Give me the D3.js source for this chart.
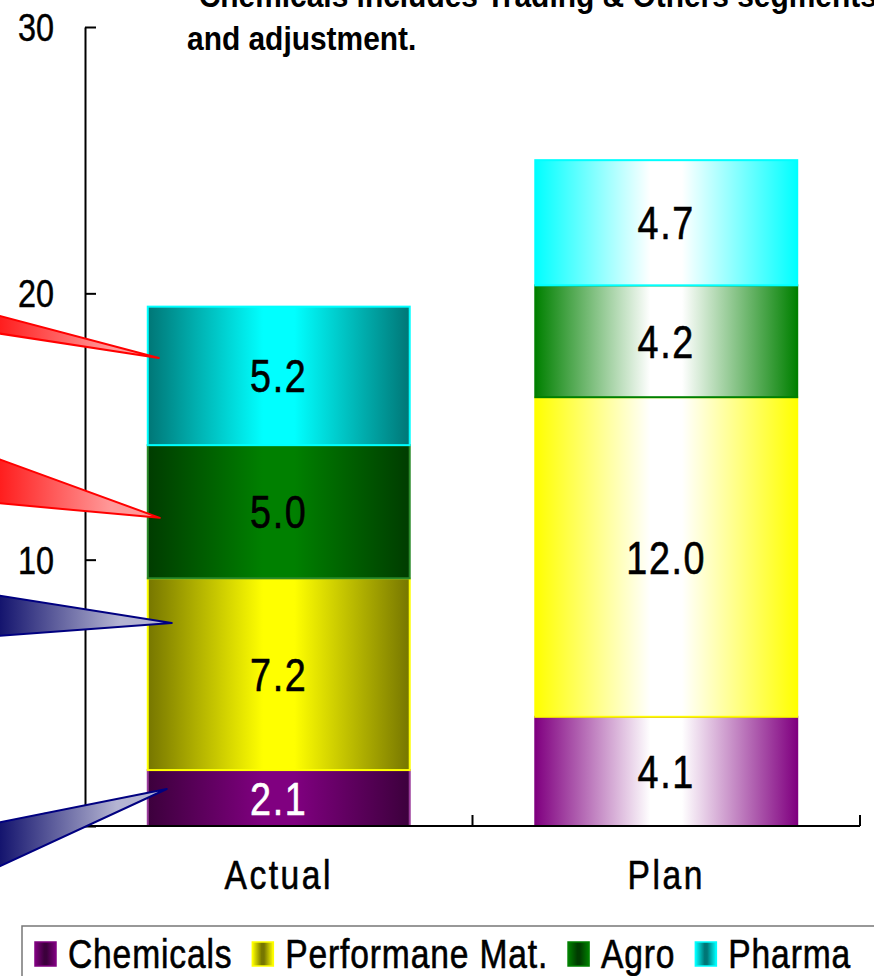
<!DOCTYPE html>
<html>
<head>
<meta charset="utf-8">
<script src="https://cdn.jsdelivr.net/npm/d3@7/dist/d3.min.js"></script>
<style>
  html, body { margin: 0; padding: 0; background: #fff; }
  svg { display: block; }
</style>
</head>
<body>
<script>
// ---- data ----
const categories = ["Actual", "Plan"];
const seriesNames = ["Chemicals", "Performane Mat.", "Agro", "Pharma"];
const chemicals = [2.1, 4.1];
const performanceMat = [7.2, 12.0];
const agro = [5.0, 4.2];
const pharma = [5.2, 4.7];
const yTicks = [0, 10, 20, 30];
const noteLines = ["*Chemicals includes Trading & Others segments", "and adjustment."];

// callout wedges: which segment value on the Actual bar each one points to
const calloutTargets = [17.57, 11.57, 7.62, 1.39];

// ---- styles ----
const W = 874, H = 976;
const seriesStyle = [
  { base: "#800080", dark: "#3c003c", stroke: "#9a3a9a", planStroke: "#800080", label: "#ffffff" },
  { base: "#ffff00", dark: "#767600", stroke: "#ffff00", planStroke: "#ffff00", label: "#000000" },
  { base: "#008000", dark: "#003c00", stroke: "#2a8a2a", planStroke: "#008000", label: "#000000" },
  { base: "#00ffff", dark: "#007676", stroke: "#00ffff", planStroke: "#00ffff", label: "#000000" }
];
const calloutStyle = [
  { y0: 315, y1: 333, dx: 11, light: "#ff9a9a", deep: "#ff1e1e", stroke: "#ff0000" },
  { y0: 458, y1: 503, dx: 12, light: "#ff9a9a", deep: "#ff1e1e", stroke: "#ff0000" },
  { y0: 595, y1: 636, dx: 24, light: "#b4b4d2", deep: "#14146e", stroke: "#000080" },
  { y0: 823, y1: 868, dx: 19, light: "#b4b4d2", deep: "#14146e", stroke: "#000080" }
];
const narrowFont = "'Liberation Sans', Arial, sans-serif";

const table = categories.map((c, i) => ({
  category: c,
  "Chemicals": chemicals[i],
  "Performane Mat.": performanceMat[i],
  "Agro": agro[i],
  "Pharma": pharma[i]
}));

const svg = d3.select("body").append("svg")
  .attr("width", W).attr("height", H)
  .attr("viewBox", `0 0 ${W} ${H}`);
const defs = svg.append("defs");

// scales
const x = d3.scaleBand().domain(categories).range([85, 860])
  .paddingInner(0.324).paddingOuter(0.162);
const y = d3.scaleLinear().domain([0, 30]).range([826, 27]);

// gradients: metallic dark-edged for Actual, white-centred for Plan
function hGradient(id, edge, mid) {
  const g = defs.append("linearGradient").attr("id", id)
    .attr("x1", "0%").attr("x2", "100%").attr("y1", "0%").attr("y2", "0%");
  g.append("stop").attr("offset", "0%").attr("stop-color", edge);
  g.append("stop").attr("offset", "44%").attr("stop-color", mid);
  g.append("stop").attr("offset", "56%").attr("stop-color", mid);
  g.append("stop").attr("offset", "100%").attr("stop-color", edge);
}
seriesStyle.forEach((s, i) => {
  hGradient(`actual-${i}`, s.dark, s.base);
  hGradient(`plan-${i}`, s.base, "#ffffff");
  hGradient(`swatch-${i}`, s.base, s.dark);
});

// note text at the top
const note = svg.append("g").attr("font-family", narrowFont)
  .attr("font-weight", "bold").attr("font-size", 34).attr("fill", "#000");
noteLines.forEach((t, i) => {
  note.append("g").attr("transform", `translate(187,${7 + i * 43}) scale(0.88,1)`)
    .append("text").text(t);
});

// y axis
const yAxis = d3.axisLeft(y).tickValues(yTicks).tickFormat(d3.format("d"))
  .tickSizeInner(-11).tickSizeOuter(0).tickPadding(31);
const yg = svg.append("g").attr("transform", "translate(85,0)").call(yAxis);
yg.select(".domain").attr("stroke", "#000").attr("stroke-width", 2);
yg.selectAll(".tick line").attr("stroke", "#000").attr("stroke-width", 2);
yg.selectAll(".tick text")
  .attr("font-family", narrowFont).attr("font-size", 39).attr("fill", "#000")
  .attr("stroke", "#000").attr("stroke-width", 0.5)
  .attr("x", 0).attr("dy", "0.35em")
  .attr("transform", "translate(-31,0) scale(0.83,1)");

// stacked bars
const stack = d3.stack().keys(seriesNames);
const layers = stack(table);

const barG = svg.append("g");
layers.forEach((layer, si) => {
  const st = seriesStyle[si];
  layer.forEach((d, ci) => {
    const cat = categories[ci];
    const isPlan = ci === 1;
    barG.append("rect")
      .attr("x", x(cat))
      .attr("y", y(d[1]))
      .attr("width", x.bandwidth())
      .attr("height", y(d[0]) - y(d[1]))
      .attr("fill", `url(#${isPlan ? "plan" : "actual"}-${si})`)
      .attr("stroke", isPlan ? st.planStroke : st.stroke)
      .attr("stroke-width", 2);
  });
});

// value labels
const labelG = svg.append("g").attr("font-family", narrowFont).attr("font-size", 46);
layers.forEach((layer, si) => {
  layer.forEach((d, ci) => {
    const cat = categories[ci];
    const val = d[1] - d[0];
    const cx = x(cat) + x.bandwidth() / 2;
    const cy = (y(d[0]) + y(d[1])) / 2;
    const col = ci === 0 ? seriesStyle[si].label : "#000";
    labelG.append("g").attr("transform", `translate(${cx},${cy}) scale(0.82,1)`)
      .append("text")
      .attr("text-anchor", "middle").attr("dy", "0.36em")
      .attr("letter-spacing", 2)
      .attr("fill", col).attr("stroke", col).attr("stroke-width", 0.6)
      .text(val.toFixed(1));
  });
});

// x axis line with ticks at category boundaries
const xg = svg.append("g");
xg.append("line").attr("x1", x.range()[0]).attr("x2", x.range()[1])
  .attr("y1", y(0)).attr("y2", y(0)).attr("stroke", "#000").attr("stroke-width", 2);
categories.forEach((c, i) => {
  const bx = x.range()[0] + x.step() * (i + 1);
  xg.append("line").attr("x1", bx).attr("x2", bx)
    .attr("y1", y(0)).attr("y2", y(0) - 11).attr("stroke", "#000").attr("stroke-width", 2);
});
categories.forEach(c => {
  xg.append("g")
    .attr("transform", `translate(${x(c) + x.bandwidth() / 2},889) scale(0.84,1)`)
    .append("text").attr("text-anchor", "middle")
    .attr("font-family", narrowFont).attr("font-size", 40).attr("fill", "#000")
    .attr("stroke", "#000").attr("stroke-width", 0.6).attr("letter-spacing", 3)
    .text(c);
});

// callout wedges pointing into the Actual bar
const calloutG = svg.append("g");
calloutTargets.forEach((v, i) => {
  const cs = calloutStyle[i];
  const tipX = x("Actual") + cs.dx;
  const tipY = y(v);
  const gid = `callout-${i}`;
  const g = defs.append("linearGradient").attr("id", gid)
    .attr("gradientUnits", "userSpaceOnUse")
    .attr("x1", 0).attr("y1", 0).attr("x2", tipX).attr("y2", 0);
  g.append("stop").attr("offset", "0%").attr("stop-color", cs.deep);
  g.append("stop").attr("offset", "70%").attr("stop-color", cs.light);
  g.append("stop").attr("offset", "100%").attr("stop-color", cs.light);
  calloutG.append("path")
    .attr("d", `M-4,${cs.y0}L${tipX},${tipY}L-4,${cs.y1}Z`)
    .attr("fill", `url(#${gid})`)
    .attr("stroke", cs.stroke).attr("stroke-width", 2).attr("stroke-linejoin", "round");
});

// legend
const legendG = svg.append("g");
legendG.append("rect").attr("x", 22).attr("y", 926).attr("width", 900).attr("height", 100)
  .attr("fill", "#fff").attr("stroke", "#777").attr("stroke-width", 1.5);
const legendScale = 0.84;
let lx = 35;
seriesNames.forEach((name, i) => {
  const st = seriesStyle[i];
  legendG.append("rect").attr("x", lx).attr("y", 942).attr("width", 21).attr("height", 24)
    .attr("fill", `url(#swatch-${i})`).attr("stroke", st.base).attr("stroke-width", 1.5);
  const tg = legendG.append("g").attr("transform", `translate(${lx + 33},968) scale(${legendScale},1)`);
  const t = tg.append("text").attr("font-family", narrowFont).attr("font-size", 40)
    .attr("fill", "#000").attr("stroke", "#000").attr("stroke-width", 0.6)
    .attr("letter-spacing", 1).text(name);
  const w = t.node().getComputedTextLength() * legendScale;
  lx = lx + 33 + w + 20;
});
</script>
</body>
</html>
